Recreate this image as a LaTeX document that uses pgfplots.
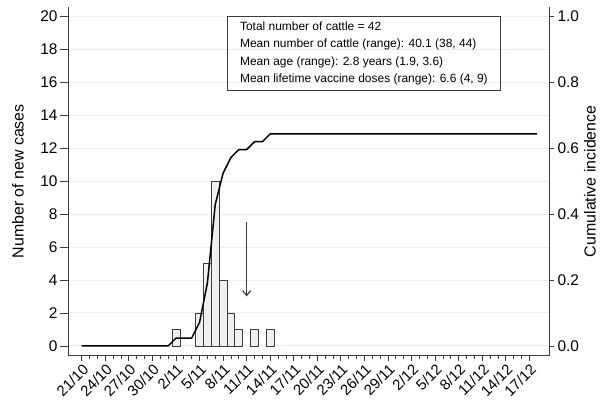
\documentclass[border=0pt]{standalone}
\usepackage{pgfplots}
\pgfplotsset{compat=1.18}
\usepackage{fontspec}
\setmainfont{Liberation Sans}
\usetikzlibrary{arrows.meta}
\definecolor{gridc}{RGB}{230,238,240}
\definecolor{barfill}{RGB}{240,240,240}
\definecolor{axc}{RGB}{60,60,60}

\begin{document}
\begin{tikzpicture}
\useasboundingbox (-68bp,-44.5bp) rectangle (532bp,355.5bp);
% left axis: new cases per day
\begin{axis}[
    scale only axis, width=481bp, height=348.5bp,
    xmin=-1.75, xmax=59.5, ymin=-0.58, ymax=20.55,
    axis x line*=bottom, axis y line*=left,
    axis line style={axc, line width=0.8bp},
    xtick=\empty,
    ytick={0,2,...,20},
    ymajorgrids, grid style={gridc, line width=0.9bp},
    tick align=outside, major tick length=8bp,
    tick style={axc, line width=0.8bp},
    /pgf/number format/assume math mode=true,
    yticklabel style={font=\fontsize{15.5}{16}\selectfont, xshift=1bp},
    ylabel={Number of new cases},
    ylabel style={at={(axis description cs:-0.104,0.5)}, anchor=center,
        font=\fontsize{16}{17}\selectfont},
]
\addplot[ybar, bar width=1, bar shift=0, draw=axc, fill=barfill, line width=0.8bp]
  coordinates {(12,1) (15,2) (16,5) (17,10) (18,4) (19,2) (20,1) (22,1) (24,1)};
\draw[axc, line width=1.1bp, -{Straight Barb[length=5bp,width=8bp]}]
  (axis cs:21,7.5) -- (axis cs:21,3.0);
\node[draw=axc, line width=0.7bp, anchor=north west, align=left,
      inner xsep=13bp, inner ysep=5bp,
      font=\fontsize{12}{17.7}\selectfont]
  at (rel axis cs:0.33,0.974)
  {Total number of cattle = 42\\
   Mean number of cattle (range): 40.1 (38, 44)\\
   Mean age (range): 2.8 years (1.9, 3.6)\\
   Mean lifetime vaccine doses (range): 6.6 (4, 9)};
\end{axis}
% right axis: cumulative incidence, and the date axis
\begin{axis}[
    scale only axis, width=481bp, height=348.5bp,
    xmin=-1.75, xmax=59.5, ymin=-0.029, ymax=1.0275,
    axis x line*=bottom, axis y line*=right,
    axis line style={axc, line width=0.8bp},
    xtick={0,3,...,57},
    xticklabels={21/10,24/10,27/10,30/10,2/11,5/11,8/11,11/11,14/11,17/11,
                 20/11,23/11,26/11,29/11,2/12,5/12,8/12,11/12,14/12,17/12},
    minor x tick num=2,
    ytick={0,0.2,0.4,0.6,0.8,1.0},
    tick align=outside, major tick length=5bp, minor tick length=3bp,
    tick style={axc, line width=0.8bp},
    /pgf/number format/assume math mode=true,
    yticklabel style={/pgf/number format/fixed, /pgf/number format/precision=1,
        /pgf/number format/fixed zerofill, font=\fontsize{15.5}{16}\selectfont},
    xticklabel style={rotate=45, anchor=north east, font=\fontsize{15}{16}\selectfont,
        inner sep=1.5bp},
    ylabel={Cumulative incidence},
    ylabel style={at={(axis description cs:1.085,0.5)}, anchor=center,
        font=\fontsize{16}{17}\selectfont},
]
\addplot[black, line width=1.5bp, line join=round] coordinates {
  (0,0) (11,0) (12,0.0238) (14,0.0238) (15,0.0714) (16,0.1905) (17,0.4286)
  (18,0.5238) (19,0.5714) (20,0.5952) (21,0.5952) (22,0.6190) (23,0.6190)
  (24,0.6429) (58,0.6429)};
\end{axis}
\end{tikzpicture}
\end{document}
